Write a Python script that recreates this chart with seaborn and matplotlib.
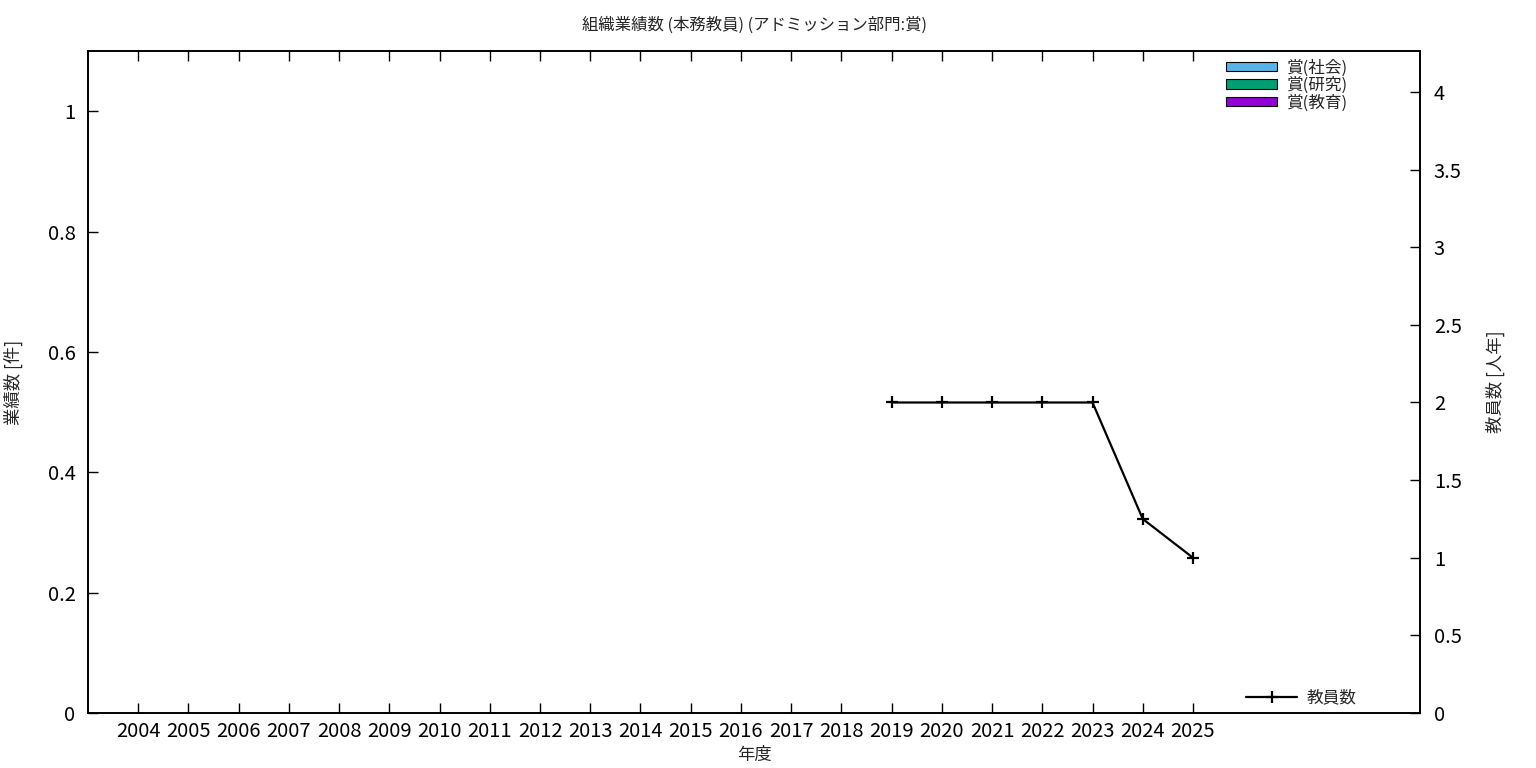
import matplotlib
matplotlib.use("Agg")
import matplotlib.pyplot as plt
import seaborn as sns
import pandas as pd
from matplotlib.patches import Patch
from matplotlib.lines import Line2D

# data
years = [str(y) for y in range(2004, 2026)]
award_social = [0] * len(years)
award_research = [0] * len(years)
award_education = [0] * len(years)

staff_years = ["2019", "2020", "2021", "2022", "2023", "2024", "2025"]
staff_counts = [2, 2, 2, 2, 2, 1.25, 1]

sns.set_theme(style="white")
plt.rcParams['font.family'] = ['Noto Sans CJK JP', 'DejaVu Sans']

fig = plt.figure(figsize=(15.36, 7.68), dpi=100)
ax = fig.add_axes([88 / 1536, 55 / 768, (1420 - 88) / 1536, (713 - 51) / 768])

# stacked bars (all zero here)
bars = pd.DataFrame({"year": years, "social": award_social,
                     "research": award_research, "education": award_education})
colors = {"social": "#56b4e9", "research": "#009e73", "education": "#9400d3"}
for key in ["education", "research", "social"]:
    sns.barplot(x=bars.index, y=bars[key], color=colors[key], ax=ax,
                native_scale=True, width=0.8, linewidth=0, saturation=1)

ax.set_xlim(-1, 25.52)
ax.set_ylim(0, 1.1)
ax.set_xticks(range(len(years)))
ax.set_xticklabels(years)
ax.set_yticks([0, 0.2, 0.4, 0.6, 0.8, 1])
ax.set_yticklabels(["0", "0.2", "0.4", "0.6", "0.8", "1"])
ax.tick_params(axis="x", direction="in", length=7, width=1, top=True, bottom=True,
               labelsize=14.5, pad=6, colors="black")
ax.tick_params(axis="y", direction="in", length=7, width=1, left=True,
               labelsize=14.5, pad=9, colors="black")
ax.set_xlabel("年度", fontsize=12.5)
ax.set_ylabel("業績数 [件]", fontsize=12.5)
ax.xaxis.set_label_coords((754 - 88) / 1332, -(746 - 713) / 662)
ax.yaxis.set_label_coords((23 - 88) / 1332, 0.5)
for s in ax.spines.values():
    s.set_color("black")
    s.set_linewidth(1.2)

# staff count line on right axis
ax2 = ax.twinx()
line_df = pd.DataFrame({"x": [years.index(y) for y in staff_years], "count": staff_counts})
sns.lineplot(data=line_df, x="x", y="count", ax=ax2, color="black", linewidth=1.6,
             marker="+", markersize=9, markeredgewidth=1.6, markeredgecolor="black")
ax2.set_xlim(-1, 25.52)
ax2.set_ylim(0, 4.264)
ax2.set_yticks([0, 0.5, 1, 1.5, 2, 2.5, 3, 3.5, 4])
ax2.set_yticklabels(["0", "0.5", "1", "1.5", "2", "2.5", "3", "3.5", "4"])
ax2.tick_params(axis="y", direction="in", length=7, width=1, right=True,
                labelsize=14.5, pad=10, colors="black")
ax2.set_xlabel("")
ax2.set_ylabel("教員数 [人年]", fontsize=12.5)
ax2.yaxis.set_label_coords((1486 - 88) / 1332, 0.5)
ax2.grid(False)
for s in ax2.spines.values():
    s.set_color("black")
    s.set_linewidth(1.2)

fig.text(754 / 1536, 1 - 25 / 768, "組織業績数 (本務教員) (アドミッション部門:賞)",
         fontsize=11.8, ha="center", va="center")

h1 = [Patch(facecolor=colors["social"], edgecolor="black", linewidth=0.8),
      Patch(facecolor=colors["research"], edgecolor="black", linewidth=0.8),
      Patch(facecolor=colors["education"], edgecolor="black", linewidth=0.8)]
leg1 = ax2.legend(h1, ["賞(社会)", "賞(研究)", "賞(教育)"], loc="upper left",
                  bbox_to_anchor=((1225 - 88) / 1332 - 0.002, 1 - 5 / 662), frameon=False,
                  fontsize=12, handlelength=3.1, handleheight=0.5, labelspacing=0.02,
                  handletextpad=0.55, borderaxespad=0.0, borderpad=0.2)
ax2.add_artist(leg1)
h2 = [Line2D([0], [0], color="black", linewidth=1.6, marker="+", markersize=9,
             markeredgewidth=1.6)]
ax2.legend(h2, ["教員数"], loc="lower left", bbox_to_anchor=((1246 - 88) / 1332 - 0.004, 0.002),
           frameon=False, fontsize=12, handlelength=3.1, handletextpad=0.55,
           borderaxespad=0.0, borderpad=0.3)

fig.savefig("out.png", dpi=100)
